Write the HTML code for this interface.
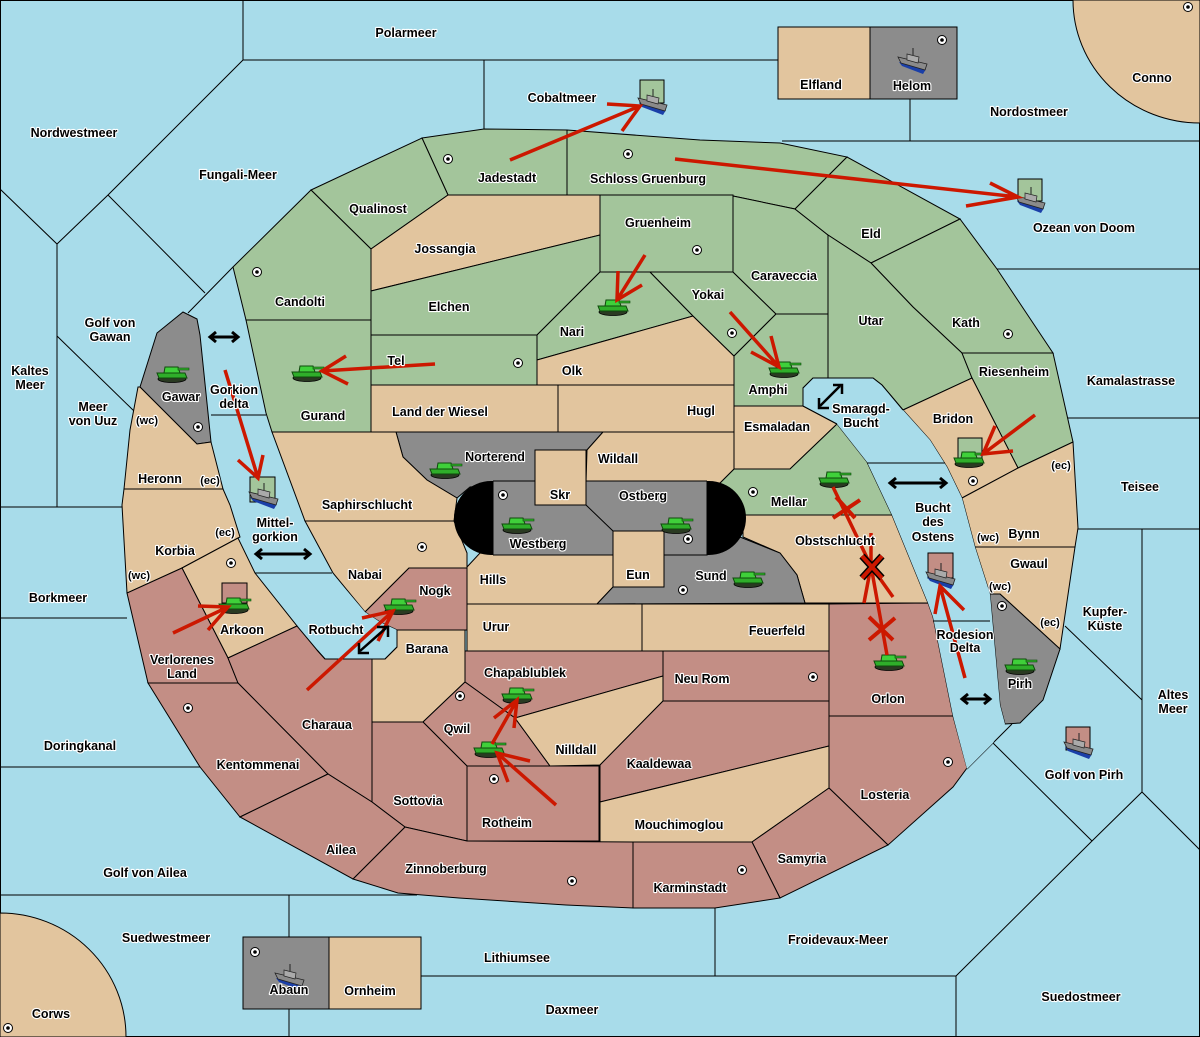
<!DOCTYPE html>
<html><head><meta charset="utf-8"><style>
html,body{margin:0;padding:0;background:#a8dcea}
svg{display:block}
text{font-family:"Liberation Sans","DejaVu Sans",sans-serif;font-weight:bold;font-size:12.5px;fill:#000;stroke:#fff;stroke-width:2.2px;paint-order:stroke;text-anchor:middle;stroke-linejoin:round}
.s{font-size:11px}
.l{fill:none;stroke:#000;stroke-width:1}
.g{fill:#a3c59b;stroke:#000;stroke-width:1}
.t{fill:#e2c59e;stroke:#000;stroke-width:1}
.p{fill:#c38e85;stroke:#000;stroke-width:1}
.y{fill:#8c8c8c;stroke:#000;stroke-width:1}
.w{fill:#a8dcea;stroke:#000;stroke-width:1}
.r{stroke:#cc1800;stroke-width:3.5;fill:none;stroke-linecap:butt}
.b{stroke:#000;stroke-width:3;fill:none}
</style></head><body>
<svg width="1200" height="1037" viewBox="0 0 1200 1037" xmlns="http://www.w3.org/2000/svg">
<defs>
<g id="tank">
<ellipse cx="0" cy="5" rx="14" ry="3.5" fill="#2a3a22" stroke="#000" stroke-width="0.8"/>
<path d="M-15,-1 L13,-1 L15,4 L-13,4 Z" fill="#2fae2a" stroke="#0f4a0c" stroke-width="1"/>
<path d="M-7,-7 L6,-7 L8,-1 L-8,-1 Z" fill="#3fd03a" stroke="#0f4a0c" stroke-width="1"/>
<rect x="6" y="-6" width="11" height="2" fill="#2fae2a" stroke="#0f4a0c" stroke-width="0.6"/>
</g>
<g id="ship">
<path d="M-13,3 L14,10 L11,15 L-10,7 Z" fill="#1a3fa8"/>
<path d="M-14,-2 L15,5 L13,11 L-11,4 Z" fill="#8a8a8a" stroke="#222" stroke-width="0.8"/>
<path d="M-5,-5 L7,-2 L6,4 L-5,1 Z" fill="#aaa" stroke="#222" stroke-width="0.7"/>
<line x1="1" y1="-4" x2="1" y2="-11" stroke="#222" stroke-width="1"/>
</g>
<g id="sc"><circle r="4.5" fill="#fff" stroke="#000" stroke-width="1"/><circle r="1.8" fill="#000"/></g>
</defs>
<rect x="0.5" y="0.5" width="1199" height="1036" fill="#a8dcea" stroke="#000"/>
<path class="l" d="M243,0 V60 H778 M484,60 V129 M243,60 L108,195 L57,244 L0,189 M108,195 L205,293 M188,313 L233,267 M57,244 V507 M57,336 L135,412 M0,507 H122 M0,618 H127 M0,767 H205 M0,895 H417 M289,895 V1037 M715,908 V976 M421,976 H956 V1037 M956,976 L1092,841 L1142,792 L1200,850 M993,743 L1092,841 M993,743 L967,769 M993,743 L1012,724 M1142,529 V792 M1065,626 L1142,700 M1078,529 H1200 M1068,418 H1200 M997,269 H1200 M782,141 H1200 M910,99 V141 M867,463 H945 M933,621 H990"/>
<path class="t" d="M1073,0 A127,123 0 0 0 1200,123 L1200,0 Z"/>
<path class="t" d="M0,913 A126,124 0 0 1 126,1037 L0,1037 Z"/>
<rect class="t" x="778" y="27" width="92" height="72"/>
<rect class="y" x="870" y="27" width="87" height="72"/>
<rect class="y" x="243" y="937" width="86" height="72"/>
<rect class="t" x="329" y="937" width="92" height="72"/>
<path class="g" d="M422,138 L484,129 L567,130 L567,195 L448,195 Z"/>
<path class="g" d="M567,130 L700,140 L780,143 L847,157 L795,209 L733,196 L600,195 L567,195 Z"/>
<path class="g" d="M311,190 L422,138 L448,195 L371,249 Z"/>
<path class="g" d="M233,267 L311,190 L371,249 L371,320 L246,320 Z"/>
<path class="g" d="M246,320 L371,320 L371,432 L272,432 L266,413 Z"/>
<path class="t" d="M448,195 L600,195 L600,235 L371,291 L371,249 Z"/>
<path class="g" d="M371,291 L600,235 L600,272 L537,335 L371,335 Z"/>
<rect class="g" x="600" y="195" width="133" height="77"/>
<rect class="g" x="371" y="335" width="166" height="50"/>
<path class="g" d="M537,335 L600,272 L650,272 L693,316 L537,360 Z"/>
<path class="t" d="M537,360 L693,316 L734,356 L734,385 L537,385 Z"/>
<rect class="t" x="371" y="385" width="187" height="47"/>
<rect class="t" x="558" y="385" width="176" height="47"/>
<path class="g" d="M650,272 L733,272 L776,314 L734,356 L693,316 Z"/>
<path class="g" d="M733,196 L795,209 L828,235 L828,314 L776,314 L733,272 Z"/>
<path class="g" d="M734,356 L776,314 L828,314 L828,378 L813,378 L803,388 L803,406 L734,406 Z"/>
<path class="g" d="M795,209 L847,157 L960,219 L871,263 L828,235 Z"/>
<path class="g" d="M871,263 L960,219 L997,269 L1053,353 L962,353 L913,307 Z"/>
<path class="g" d="M828,235 L871,263 L913,307 L962,353 L972,378 L903,410 L882,385 L873,378 L828,378 Z"/>
<path class="g" d="M962,353 L1053,353 L1073,442 L1018,468 L972,378 Z"/>
<path class="t" d="M903,410 L972,378 L1018,468 L962,498 L947,467 L930,440 Z"/>
<path class="t" d="M962,498 L1018,468 L1073,442 L1078,528 L1075,547 L975,547 Z"/>
<path class="t" d="M975,547 L1075,547 L1060,649 L1000,594 L990,594 Z"/>
<path class="y" d="M990,594 L1000,594 L1060,649 L1043,700 L1020,723 L1005,724 L1000,705 Z"/>
<path class="t" d="M734,406 L803,406 L837,424 L790,469 L734,469 Z"/>
<path class="g" d="M720,483 L734,469 L790,469 L837,424 L867,462 L892,515 L743,515 Z"/>
<path class="t" d="M743,515 L892,515 L928,603 L805,603 L797,575 L780,553 L743,537 Z"/>
<path class="y" d="M396,432 L603,432 L587,450 L535,450 L535,482 L470,487 L457,498 L427,480 L403,457 Z"/>
<path class="t" d="M603,432 L734,432 L734,469 L720,483 L586,483 L587,450 Z"/>
<path class="t" d="M272,432 L396,432 L403,457 L427,480 L457,498 L454,521 L305,521 Z"/>
<path class="t" d="M305,521 L454,521 L467,553 L467,568 L409,568 L365,612 L333,573 Z"/>
<path class="t" d="M467,567 L480,553 L613,555 L613,587 L597,604 L467,604 Z"/>
<path class="y" d="M613,587 L664,587 L664,555 L707,555 L740,537 L780,553 L797,575 L805,603 L597,604 Z"/>
<rect x="454" y="481" width="292" height="74" rx="37" fill="#000"/>
<rect class="y" x="493" y="481" width="214" height="74" style="stroke:none"/>
<path class="l" d="M493,481 V555 M707,481 V555 M493,481 H707 M493,555 H707 M586,505 L613,531"/>
<rect class="t" x="535" y="450" width="51" height="55"/>
<rect class="t" x="613" y="531" width="51" height="56"/>
<path class="p" d="M365,612 L409,568 L467,568 L467,630 L397,630 L380,622 Z"/>
<path class="w" d="M365,612 L380,622 L397,630 L397,647 L385,659 L325,659 L317,650 L297,626 L255,573 L332,573 Z" style="stroke:none"/>
<path class="t" d="M397,630 L465,630 L465,682 L423,722 L372,722 L372,659 L385,659 L397,647 Z"/>
<rect class="t" x="467" y="604" width="175" height="47"/>
<rect class="t" x="642" y="604" width="187" height="47"/>
<path class="p" d="M465,651 L663,651 L663,676 L515,718 L465,682 Z"/>
<rect class="p" x="663" y="651" width="166" height="50"/>
<path class="p" d="M423,722 L465,682 L515,718 L550,766 L467,766 Z"/>
<path class="t" d="M515,718 L663,676 L663,701 L600,765 L550,766 Z"/>
<rect class="p" x="467" y="766" width="132" height="75"/>
<path class="p" d="M372,722 L423,722 L467,766 L467,841 L405,827 L372,802 Z"/>
<path class="p" d="M600,765 L663,701 L829,701 L829,746 L600,802 Z"/>
<path class="t" d="M600,802 L829,746 L829,788 L752,842 L600,842 Z"/>
<path class="p" d="M829,604 L928,603 L933,617 L953,716 L829,716 Z"/>
<path class="p" d="M829,716 L953,716 L967,768 L953,787 L888,845 L829,788 Z"/>
<path class="p" d="M752,842 L829,788 L888,845 L780,898 Z"/>
<path class="p" d="M633,842 L752,842 L780,898 L715,908 L643,908 L633,908 Z"/>
<path class="p" d="M353,879 L405,827 L467,841 L633,842 L633,908 L566,905 L459,898 L398,893 Z"/>
<path class="y" d="M140,387 L157,333 L183,312 L197,319 L200,335 L211,442 L197,444 Z"/>
<path class="t" d="M138,387 L140,387 L197,444 L211,442 L223,489 L124,489 L130,430 Z"/>
<path class="t" d="M124,489 L223,489 L230,505 L240,537 L238,538 L182,568 L127,593 L122,505 Z"/>
<path class="t" d="M182,568 L238,538 L255,573 L297,626 L228,658 Z"/>
<path class="p" d="M127,593 L182,568 L228,658 L238,683 L148,683 Z"/>
<path class="p" d="M228,658 L297,626 L317,650 L325,659 L372,659 L372,802 L328,774 L238,683 Z"/>
<path class="p" d="M148,683 L238,683 L328,774 L240,817 L200,767 Z"/>
<path class="p" d="M240,817 L328,774 L372,802 L405,827 L353,879 Z"/>
<path class="l" d="M211,415 H266 M255,573 H332 M325,659 L317,650 M397,630 V647 L385,659 H325"/>
<path class="w" d="M803,406 L803,388 L813,378 L873,378 L882,385 L903,410 L930,440 L947,467 L962,498 L975,547 L990,594 L1000,705 L1005,724 L993,743 L967,769 L953,716 L933,617 L928,603 L892,515 L867,462 L837,424 Z" style="stroke:none"/>
<path class="l" d="M803,406 L803,388 L813,378 L873,378 L882,385 L903,410 M837,424 L803,406 M867,463 H945 M933,621 H990"/>
<rect class="g" x="640" y="80" width="24" height="23"/>
<rect class="g" x="1018" y="179" width="24" height="22"/>
<rect class="g" x="250" y="477" width="25" height="25"/>
<rect class="g" x="958" y="438" width="24" height="24"/>
<rect class="p" x="222" y="583" width="25" height="20"/>
<rect class="p" x="928" y="553" width="25" height="25"/>
<rect class="p" x="1066" y="727" width="24" height="23"/>
<use href="#sc" x="448" y="159"/><use href="#sc" x="628" y="154"/><use href="#sc" x="697" y="250"/><use href="#sc" x="257" y="272"/>
<use href="#sc" x="518" y="363"/><use href="#sc" x="732" y="333"/><use href="#sc" x="1008" y="334"/><use href="#sc" x="198" y="427"/>
<use href="#sc" x="503" y="495"/><use href="#sc" x="753" y="492"/><use href="#sc" x="973" y="481"/><use href="#sc" x="422" y="547"/>
<use href="#sc" x="688" y="539"/><use href="#sc" x="231" y="563"/><use href="#sc" x="683" y="590"/><use href="#sc" x="1002" y="606"/>
<use href="#sc" x="813" y="677"/><use href="#sc" x="460" y="696"/><use href="#sc" x="188" y="708"/><use href="#sc" x="494" y="779"/>
<use href="#sc" x="948" y="762"/><use href="#sc" x="572" y="881"/><use href="#sc" x="742" y="870"/><use href="#sc" x="942" y="40"/>
<use href="#sc" x="1188" y="7"/><use href="#sc" x="8" y="1028"/><use href="#sc" x="255" y="952"/>
<use href="#tank" x="172" y="374"/><use href="#tank" x="307" y="373"/><use href="#tank" x="613" y="307"/><use href="#tank" x="784" y="369"/>
<use href="#tank" x="969" y="459"/><use href="#tank" x="445" y="470"/><use href="#tank" x="517" y="525"/><use href="#tank" x="676" y="525"/>
<use href="#tank" x="834" y="479"/><use href="#tank" x="748" y="579"/><use href="#tank" x="234" y="605"/><use href="#tank" x="399" y="606"/>
<use href="#tank" x="517" y="695"/><use href="#tank" x="489" y="749"/><use href="#tank" x="889" y="662"/><use href="#tank" x="1020" y="666"/>
<use href="#ship" x="652" y="100"/><use href="#ship" x="1030" y="198"/><use href="#ship" x="263" y="494"/><use href="#ship" x="940" y="574"/>
<use href="#ship" x="1078" y="744"/><use href="#ship" x="912" y="59"/><use href="#ship" x="289" y="975"/>
<path class="r" d="M510,160 L640,106 M607,104 L640,106 L622,131"/>
<path class="r" d="M675,159 L1018,197 M990,183 L1018,197 L966,206"/>
<path class="r" d="M435,364 L322,371 M346,356 L322,371 L348,384"/>
<path class="r" d="M645,255 L617,300 M618,271 L617,300 L642,285"/>
<path class="r" d="M730,312 L779,367 M771,336 L779,367 L751,352"/>
<path class="r" d="M1035,415 L983,454 M995,426 L983,454 L1013,451"/>
<path class="r" d="M225,370 L258,478 M238,460 L258,478 L263,455"/>
<path class="r" d="M173,633 L228,607 M198,606 L228,607 L208,630"/>
<path class="r" d="M307,690 L393,611 M362,618 L393,611 L378,641"/>
<path class="r" d="M556,805 L497,753 M530,761 L497,753 L508,782"/>
<path class="r" d="M492,744 L517,700 M494,718 L517,700 L514,728"/>
<path class="r" d="M833,487 L871,566 M871,533 L871,566 L893,597"/>
<path class="r" d="M887,655 L871,566 M864,603 L871,566"/>
<path class="r" d="M965,678 L940,586 M935,614 L940,586 L964,610"/>
<path d="M836,497 L855,518 M833,518 L860,500" stroke="#cc1800" stroke-width="4" fill="none"/>
<path d="M869,617 L893,640 M869,640 L895,618" stroke="#cc1800" stroke-width="4" fill="none"/>
<path d="M862,556 L882,578 M862,578 L882,556" stroke="#000" stroke-width="7"/>
<path d="M862,556 L882,578 M862,578 L882,556" stroke="#cc1800" stroke-width="4"/>
<g class="b">
<path d="M212,337 H236"/><path d="M216,332 L210,337 L216,342 M232,332 L238,337 L232,342"/>
<path d="M258,554 H308"/><path d="M262,549 L256,554 L262,559 M304,549 L310,554 L304,559"/>
<path d="M892,483 H944"/><path d="M896,478 L890,483 L896,488 M940,478 L946,483 L940,488"/>
<path d="M964,699 H988"/><path d="M968,694 L962,699 L968,704 M984,694 L990,699 L984,704"/>
<path d="M820,406 L840,386 M819,398 L819,408 L829,408 M833,385 L842,385 L842,394" stroke-width="2.5"/>
<path d="M360,651 L386,628 M359,643 L359,653 L369,653 M377,627 L388,627 L388,637" stroke-width="2.5"/>
</g>
<text x="406" y="37">Polarmeer</text><text x="562" y="102">Cobaltmeer</text><text x="821" y="89">Elfland</text><text x="912" y="90">Helom</text>
<text x="1152" y="82">Conno</text><text x="1029" y="116">Nordostmeer</text><text x="74" y="137">Nordwestmeer</text><text x="238" y="179">Fungali-Meer</text>
<text x="507" y="182">Jadestadt</text><text x="648" y="183">Schloss Gruenburg</text><text x="378" y="213">Qualinost</text><text x="658" y="227">Gruenheim</text>
<text x="871" y="238">Eld</text><text x="1084" y="232">Ozean von Doom</text><text x="445" y="253">Jossangia</text><text x="784" y="280">Caraveccia</text>
<text x="300" y="306">Candolti</text><text x="449" y="311">Elchen</text><text x="708" y="299">Yokai</text><text x="871" y="325">Utar</text>
<text x="966" y="327">Kath</text><text x="572" y="336">Nari</text><text x="110" y="327">Golf von</text><text x="110" y="341">Gawan</text>
<text x="396" y="365">Tel</text><text x="572" y="375">Olk</text><text x="1014" y="376">Riesenheim</text><text x="1131" y="385">Kamalastrasse</text>
<text x="30" y="375">Kaltes</text><text x="30" y="389">Meer</text><text x="768" y="394">Amphi</text><text x="181" y="401">Gawar</text>
<text x="234" y="394">Gorkion</text><text x="234" y="408">delta</text><text x="93" y="411">Meer</text><text x="93" y="425">von Uuz</text>
<text x="323" y="420">Gurand</text><text x="440" y="416">Land der Wiesel</text><text x="701" y="415">Hugl</text>
<text x="861" y="413">Smaragd-</text><text x="861" y="427">Bucht</text><text x="953" y="423">Bridon</text><text x="777" y="431">Esmaladan</text>
<text class="s" x="147" y="424">(wc)</text><text x="160" y="483">Heronn</text><text class="s" x="210" y="484">(ec)</text>
<text x="495" y="461">Norterend</text><text x="618" y="463">Wildall</text><text x="560" y="499">Skr</text><text x="643" y="500">Ostberg</text>
<text x="789" y="506">Mellar</text><text class="s" x="1061" y="469">(ec)</text><text x="1140" y="491">Teisee</text><text x="367" y="509">Saphirschlucht</text>
<text x="933" y="512">Bucht</text><text x="933" y="526">des</text><text x="933" y="541">Ostens</text>
<text x="275" y="527">Mittel-</text><text x="275" y="541">gorkion</text><text class="s" x="225" y="536">(ec)</text>
<text x="1024" y="538">Bynn</text><text class="s" x="988" y="541">(wc)</text><text x="538" y="548">Westberg</text><text x="835" y="545">Obstschlucht</text>
<text x="175" y="555">Korbia</text><text class="s" x="139" y="579">(wc)</text><text x="365" y="579">Nabai</text><text x="493" y="584">Hills</text>
<text x="638" y="579">Eun</text><text x="711" y="580">Sund</text><text x="1029" y="568">Gwaul</text><text class="s" x="1000" y="590">(wc)</text>
<text x="58" y="602">Borkmeer</text><text x="435" y="595">Nogk</text><text x="1105" y="616">Kupfer-</text><text x="1105" y="630">Küste</text>
<text class="s" x="1050" y="626">(ec)</text><text x="496" y="631">Urur</text><text x="777" y="635">Feuerfeld</text><text x="336" y="634">Rotbucht</text>
<text x="242" y="634">Arkoon</text><text x="965" y="639">Rodesion</text><text x="965" y="652">Delta</text><text x="427" y="653">Barana</text>
<text x="182" y="664">Verlorenes</text><text x="182" y="678">Land</text><text x="525" y="677">Chapablublek</text><text x="702" y="683">Neu Rom</text>
<text x="1020" y="688">Pirh</text><text x="888" y="703">Orlon</text><text x="1173" y="699">Altes</text><text x="1173" y="713">Meer</text>
<text x="457" y="733">Qwil</text><text x="327" y="729">Charaua</text><text x="576" y="754">Nilldall</text><text x="80" y="750">Doringkanal</text>
<text x="258" y="769">Kentommenai</text><text x="659" y="768">Kaaldewaa</text><text x="1084" y="779">Golf von Pirh</text><text x="885" y="799">Losteria</text>
<text x="418" y="805">Sottovia</text><text x="507" y="827">Rotheim</text><text x="679" y="829">Mouchimoglou</text><text x="341" y="854">Ailea</text>
<text x="802" y="863">Samyria</text><text x="446" y="873">Zinnoberburg</text><text x="145" y="877">Golf von Ailea</text><text x="690" y="892">Karminstadt</text>
<text x="166" y="942">Suedwestmeer</text><text x="838" y="944">Froidevaux-Meer</text><text x="517" y="962">Lithiumsee</text><text x="289" y="994">Abaun</text>
<text x="370" y="995">Ornheim</text><text x="1081" y="1001">Suedostmeer</text><text x="572" y="1014">Daxmeer</text><text x="51" y="1018">Corws</text>
</svg>
</body></html>
